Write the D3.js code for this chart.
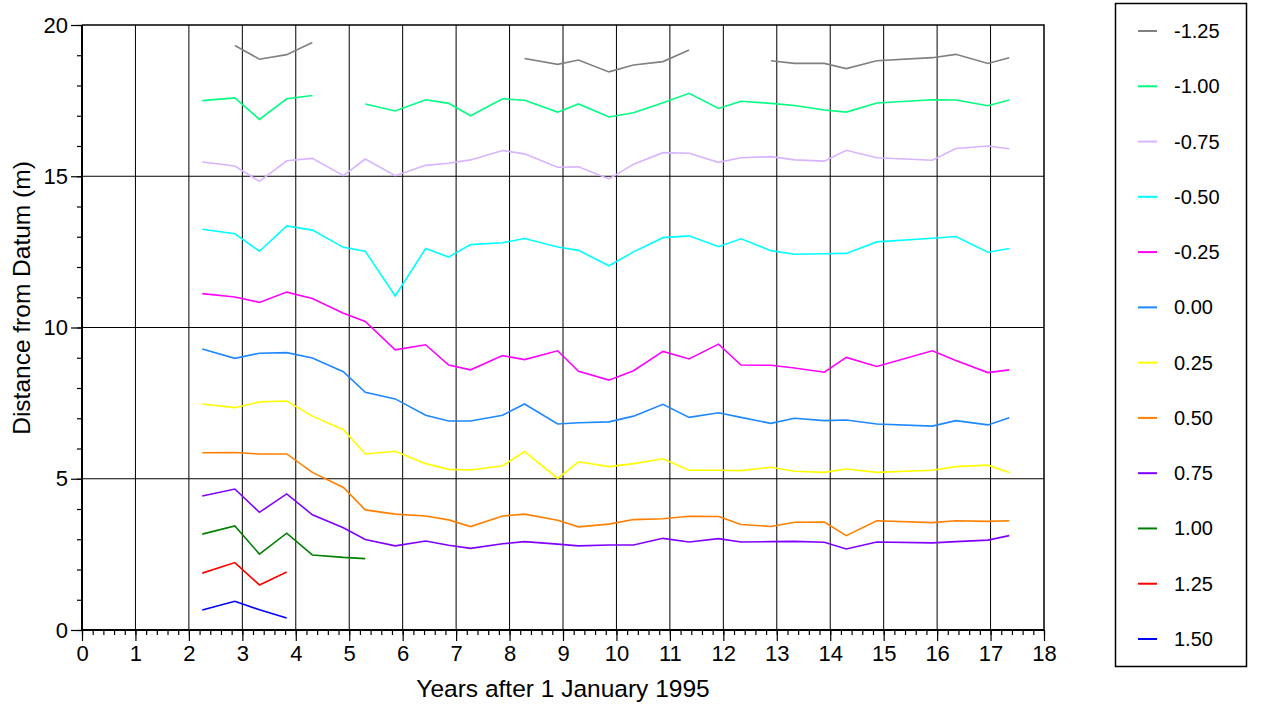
<!DOCTYPE html>
<html>
<head>
<meta charset="utf-8">
<script src="https://cdn.jsdelivr.net/npm/d3@7"></script>
<style>
  html, body { margin: 0; padding: 0; background: #fff; }
  svg { display: block; font-family: "Liberation Sans", Arial, sans-serif; }
</style>
</head>
<body>
<svg id="chart" width="1266" height="706"></svg>
<script>
// Survey epochs (years after 1 January 1995)
const years = [2.25, 2.86, 3.32, 3.83, 4.31, 4.89, 5.30, 5.86, 6.43, 6.86,
               7.27, 7.87, 8.28, 8.90, 9.29, 9.86, 10.32, 10.87, 11.36, 11.91,
               12.33, 12.89, 13.33, 13.89, 14.30, 14.87, 15.91, 16.35, 16.95, 17.35];

// Contour levels shown in the legend
const levels = ["-1.25", "-1.00", "-0.75", "-0.50", "-0.25", "0.00",
                "0.25", "0.50", "0.75", "1.00", "1.25", "1.50"];

// Distance from datum (m) per level; null = no survey at that epoch
const dM125 = [null, 19.32, 18.87, 19.02, 19.42, null, null, null, null, null,
               null, null, 18.89, 18.70, 18.84, 18.45, 18.68, 18.79, 19.17, null,
               null, 18.82, 18.73, 18.73, 18.56, 18.82, 18.92, 19.03, 18.73, 18.92];
const dM100 = [17.50, 17.59, 16.88, 17.56, 17.67, null, 17.39, 17.16, 17.53, 17.41,
               17.00, 17.56, 17.51, 17.12, 17.39, 16.96, 17.10, 17.43, 17.74, 17.24,
               17.48, 17.41, 17.34, 17.19, 17.12, 17.42, 17.53, 17.52, 17.33, 17.52];
const dM075 = [15.47, 15.34, 14.83, 15.51, 15.59, 15.02, 15.57, 15.02, 15.36, 15.43,
               15.54, 15.85, 15.74, 15.30, 15.31, 14.91, 15.40, 15.78, 15.76, 15.46,
               15.61, 15.65, 15.54, 15.50, 15.86, 15.61, 15.53, 15.92, 16.00, 15.91];
const dM050 = [13.25, 13.10, 12.52, 13.36, 13.22, 12.65, 12.52, 11.04, 12.61, 12.33,
               12.74, 12.80, 12.94, 12.66, 12.55, 12.04, 12.50, 12.97, 13.03, 12.67,
               12.93, 12.54, 12.42, 12.44, 12.45, 12.83, 12.95, 13.01, 12.49, 12.61];
const dM025 = [11.12, 11.01, 10.83, 11.17, 10.96, 10.47, 10.20, 9.26, 9.43, 8.76,
               8.60, 9.07, 8.94, 9.23, 8.55, 8.26, 8.57, 9.21, 8.96, 9.45,
               8.76, 8.75, 8.66, 8.52, 9.01, 8.71, 9.23, 8.91, 8.51, 8.60];
const d000 = [9.29, 8.98, 9.15, 9.17, 8.99, 8.54, 7.86, 7.64, 7.10, 6.91,
              6.91, 7.10, 7.47, 6.81, 6.85, 6.88, 7.07, 7.46, 7.03, 7.18,
              7.03, 6.83, 7.00, 6.92, 6.94, 6.81, 6.74, 6.92, 6.78, 7.02];
const d025 = [7.47, 7.35, 7.54, 7.57, 7.07, 6.62, 5.82, 5.91, 5.50, 5.31,
              5.29, 5.43, 5.90, 5.01, 5.56, 5.40, 5.50, 5.66, 5.28, 5.28,
              5.27, 5.38, 5.25, 5.21, 5.32, 5.21, 5.28, 5.40, 5.45, 5.21];
const d050 = [5.86, 5.87, 5.82, 5.82, 5.21, 4.71, 3.97, 3.83, 3.77, 3.64,
              3.42, 3.77, 3.83, 3.63, 3.41, 3.50, 3.65, 3.68, 3.76, 3.75,
              3.49, 3.42, 3.56, 3.57, 3.12, 3.61, 3.55, 3.61, 3.59, 3.61];
const d075 = [4.43, 4.66, 3.89, 4.50, 3.81, 3.38, 2.99, 2.78, 2.94, 2.80,
              2.70, 2.85, 2.92, 2.84, 2.78, 2.81, 2.81, 3.03, 2.91, 3.02,
              2.91, 2.92, 2.93, 2.90, 2.68, 2.91, 2.88, 2.92, 2.97, 3.12];
const d100 = [3.17, 3.44, 2.51, 3.20, 2.48, 2.40, 2.36];
const d125 = [1.88, 2.23, 1.49, 1.92];
const d150 = [0.66, 0.95, 0.67, 0.40];

const colors = ["#808080", "#00ff80", "#d8b4ff", "#00ffff", "#ff00ff", "#1e88ff",
                "#ffff00", "#ff8000", "#8000ff", "#008000", "#ff0000", "#0000ff"];

const xTickLabels = d3.range(0, 19);
const yTickLabels = [0, 5, 10, 15, 20];

const seriesValues = [dM125, dM100, dM075, dM050, dM025, d000,
                      d025, d050, d075, d100, d125, d150];

// ---- layout ----
const svg = d3.select("#chart");
const plot = { left: 82, right: 1044, top: 25, bottom: 630 };

const x = d3.scaleLinear().domain([0, 18]).range([plot.left, plot.right]);
const y = d3.scaleLinear().domain([0, 20]).range([plot.bottom, plot.top]);

// Grid lines
const grid = svg.append("g").attr("stroke", "#000").attr("stroke-width", 1);
grid.selectAll("line.v").data(xTickLabels.filter(d => d > 0 && d < 18)).join("line")
  .attr("class", "v")
  .attr("x1", d => x(d)).attr("x2", d => x(d))
  .attr("y1", plot.top).attr("y2", plot.bottom);
grid.selectAll("line.h").data(yTickLabels.filter(d => d > 0 && d < 20)).join("line")
  .attr("class", "h")
  .attr("x1", plot.left).attr("x2", plot.right)
  .attr("y1", d => y(d)).attr("y2", d => y(d));

// Frame (top and right)
svg.append("path")
  .attr("d", `M${plot.left},${plot.top}H${plot.right}V${plot.bottom}`)
  .attr("fill", "none").attr("stroke", "#000").attr("stroke-width", 1.5);

// Data lines
const line = d3.line()
  .defined(d => d.v != null)
  .x(d => x(d.t))
  .y(d => y(d.v));

const linesG = svg.append("g").attr("fill", "none").attr("stroke-width", 1.6)
  .attr("stroke-linejoin", "miter");
seriesValues.forEach((vals, i) => {
  const pts = years.map((t, j) => ({ t, v: vals[j] == null ? null : vals[j] }));
  linesG.append("path")
    .datum(pts)
    .attr("stroke", colors[i])
    .attr("d", line);
});

// X axis
const xAxisG = svg.append("g").attr("transform", `translate(0,${plot.bottom})`);
xAxisG.call(d3.axisBottom(x).tickValues(d3.range(0, 18.001, 0.2)).tickSize(5).tickFormat(""))
  .call(g => g.select(".domain").remove());
xAxisG.call(g => g.selectAll(".tick line").attr("stroke-width", 1.2));
const xMajor = svg.append("g").attr("transform", `translate(0,${plot.bottom})`);
xMajor.call(d3.axisBottom(x).tickValues(xTickLabels).tickSize(11).tickPadding(4)
    .tickFormat(d3.format("d")))
  .call(g => g.select(".domain").remove());
xMajor.selectAll(".tick line").attr("stroke-width", 1.2);
xMajor.selectAll(".tick text").attr("font-size", 22).attr("fill", "#000")
  .attr("font-family", "Liberation Sans, Arial, sans-serif");

// Y axis
const yMinor = svg.append("g").attr("transform", `translate(${plot.left},0)`);
yMinor.call(d3.axisLeft(y).tickValues(d3.range(0, 21, 1)).tickSize(5).tickFormat(""))
  .call(g => g.select(".domain").remove());
yMinor.selectAll(".tick line").attr("stroke-width", 1.2);
const yMajor = svg.append("g").attr("transform", `translate(${plot.left},0)`);
yMajor.call(d3.axisLeft(y).tickValues(yTickLabels).tickSize(11).tickPadding(3)
    .tickFormat(d3.format("d")))
  .call(g => g.select(".domain").remove());
yMajor.selectAll(".tick line").attr("stroke-width", 1.2);
yMajor.selectAll(".tick text").attr("font-size", 22).attr("fill", "#000")
  .attr("font-family", "Liberation Sans, Arial, sans-serif");

// Axis lines
svg.append("path")
  .attr("d", `M${plot.left},${plot.top}V${plot.bottom}H${plot.right}`)
  .attr("fill", "none").attr("stroke", "#000").attr("stroke-width", 2);

// Axis titles
svg.append("text")
  .attr("x", (plot.left + plot.right) / 2).attr("y", 697)
  .attr("text-anchor", "middle").attr("font-size", 24.5)
  .text("Years after 1 January 1995");
svg.append("text")
  .attr("transform", `translate(30,298) rotate(-90)`)
  .attr("text-anchor", "middle").attr("font-size", 24.5)
  .text("Distance from Datum (m)");

// Legend
const legend = svg.append("g");
legend.append("rect")
  .attr("x", 1115.5).attr("y", 3.5).attr("width", 131).attr("height", 663)
  .attr("fill", "#fff").attr("stroke", "#000").attr("stroke-width", 1.5);
const ly = d3.scalePoint().domain(levels).range([31, 639]);
const items = legend.selectAll("g.item").data(levels).join("g")
  .attr("class", "item")
  .attr("transform", d => `translate(0,${ly(d)})`);
items.append("line")
  .attr("x1", 1138).attr("x2", 1157).attr("y1", 0).attr("y2", 0)
  .attr("stroke", (d, i) => colors[i]).attr("stroke-width", 2);
items.append("text")
  .attr("x", 1174)
  .attr("y", 0).attr("dy", "0.35em")
  .attr("font-size", 20)
  .text(d => d);
</script>
</body>
</html>
